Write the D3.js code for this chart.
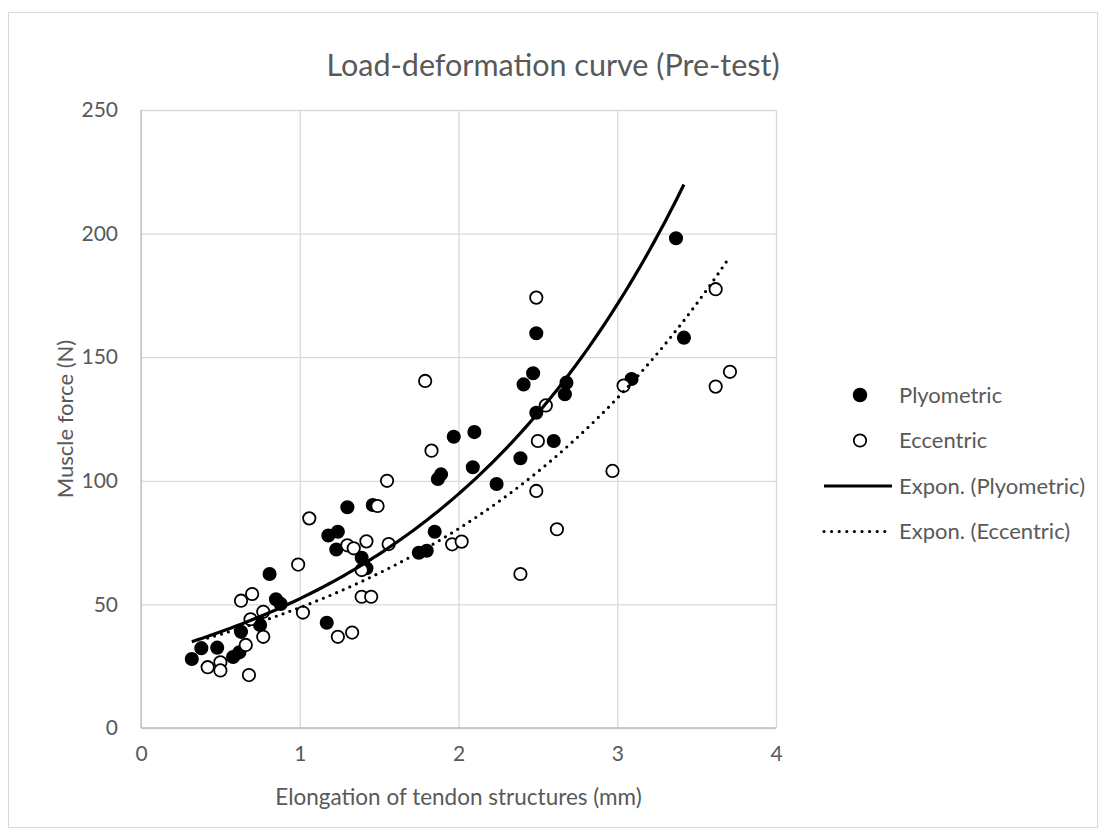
<!DOCTYPE html>
<html>
<head>
<meta charset="utf-8">
<script src="https://cdn.jsdelivr.net/npm/d3@7"></script>
<style>
body { margin: 0; background: #fff; }
svg text { font-family: Lato, "Open Sans", sans-serif; fill: #595959; }
</style>
</head>
<body>
<svg id="chart" width="1106" height="837"></svg>
<script>
// Plyometric group (filled markers)
var plyoX = [0.32, 0.38, 0.48, 0.58, 0.62, 0.63, 0.75, 0.81, 0.85, 0.88, 1.17, 1.18, 1.23, 1.24, 1.30,
    1.39, 1.42, 1.46, 1.75, 1.80, 1.85, 1.87, 1.89, 1.97, 2.09, 2.10, 2.24, 2.39, 2.41, 2.47, 2.49,
    2.49, 2.60, 2.67, 2.68, 3.09, 3.37, 3.42];
var plyoY = [27.9, 32.3, 32.5, 28.7, 30.6, 38.9, 41.7, 62.3, 52.1, 50.2, 42.6, 77.9, 72.2, 79.4, 89.3,
    68.9, 64.6, 90.2, 70.9, 71.7, 79.4, 100.7, 102.6, 117.8, 105.5, 119.7, 98.7, 109.1, 139.0, 143.5, 159.7,
    127.5, 116.1, 135.0, 139.7, 141.2, 198.1, 157.9];

// Eccentric group (open markers)
var eccX = [0.42, 0.50, 0.50, 0.68, 0.66, 0.77, 0.69, 0.77, 0.63, 0.70, 0.99, 1.02, 1.06, 1.24, 1.33,
    1.30, 1.34, 1.42, 1.39, 1.39, 1.45, 1.49, 1.55, 1.56, 1.83, 1.79, 1.96, 2.02, 2.39, 2.49, 2.50,
    2.55, 2.49, 2.62, 2.97, 3.04, 3.62, 3.71, 3.62];
var eccY = [24.6, 26.6, 23.3, 21.4, 33.6, 36.9, 44.0, 47.0, 51.5, 54.2, 66.1, 46.7, 84.8, 36.9, 38.6,
    73.9, 72.7, 75.5, 63.9, 53.1, 53.1, 89.8, 100.0, 74.4, 112.2, 140.4, 74.3, 75.4, 62.3, 95.9, 116.1,
    130.5, 174.1, 80.4, 104.0, 138.5, 177.5, 144.1, 138.1];

var xTicks = [0, 1, 2, 3, 4];
var yTicks = [0, 50, 100, 150, 200, 250];
var legendLabels = ['Plyometric', 'Eccentric', 'Expon. (Plyometric)', 'Expon. (Eccentric)'];

var svg = d3.select('#chart');
var plot = {l: 141, r: 776, t: 110, b: 728};

var xScale = d3.scaleLinear().domain([0, 4]).range([plot.l, plot.r]);
var yScale = d3.scaleLinear().domain([0, 250]).range([plot.b, plot.t]);

// chart frame
svg.append('rect')
    .attr('x', 8.5).attr('y', 12.5)
    .attr('width', 1089).attr('height', 815)
    .attr('fill', '#fff').attr('stroke', '#d9d9d9');

// gridlines + tick labels through the axis generators
var xAxisG = svg.append('g')
    .attr('transform', 'translate(0,' + plot.b + ')')
    .call(d3.axisBottom(xScale).tickValues(xTicks).tickFormat(d3.format('d'))
        .tickSize(-(plot.b - plot.t)).tickPadding(18));
var yAxisG = svg.append('g')
    .attr('transform', 'translate(' + plot.l + ',0)')
    .call(d3.axisLeft(yScale).tickValues(yTicks).tickFormat(d3.format('d'))
        .tickSize(-(plot.r - plot.l)).tickPadding(23));

[xAxisG, yAxisG].forEach(function(g) {
    g.select('.domain').remove();
    g.selectAll('.tick line').attr('stroke', '#d9d9d9').attr('stroke-width', 1.3);
    g.selectAll('.tick text').style('font-size', '21px').style('fill', '#595959');
});

// axis lines
svg.append('line')
    .attr('x1', plot.l).attr('x2', plot.l).attr('y1', plot.t).attr('y2', plot.b)
    .attr('stroke', '#bfbfbf').attr('stroke-width', 1.3);
svg.append('line')
    .attr('x1', plot.l).attr('x2', plot.r).attr('y1', plot.b).attr('y2', plot.b)
    .attr('stroke', '#bfbfbf').attr('stroke-width', 1.3);

// titles
svg.append('text')
    .attr('x', 553).attr('y', 76)
    .attr('text-anchor', 'middle')
    .style('font-size', '30.5px')
    .text('Load-deformation curve (Pre-test)');

svg.append('text')
    .attr('x', (plot.l + plot.r) / 2).attr('y', 805)
    .attr('text-anchor', 'middle')
    .style('font-size', '22.5px')
    .text('Elongation of tendon structures (mm)');

svg.append('text')
    .attr('transform', 'translate(' + [73, (plot.t + plot.b) / 2] + ')rotate(-90)')
    .attr('text-anchor', 'middle')
    .style('font-size', '22px')
    .text('Muscle force (N)');

// exponential trendline like Excel: least squares on ln(y)
function expFit(xs, ys) {
    var n = xs.length;
    var lny = ys.map(function(v) { return Math.log(v); });
    var mx = d3.mean(xs), my = d3.mean(lny);
    var sxy = 0, sxx = 0;
    for (var i = 0; i < n; i++) {
        sxy += (xs[i] - mx) * (lny[i] - my);
        sxx += (xs[i] - mx) * (xs[i] - mx);
    }
    var b = sxy / sxx;
    var a = Math.exp(my - b * mx);
    return function(x) { return a * Math.exp(b * x); };
}

function trendPoints(xs, ys) {
    var f = expFit(xs, ys);
    var lo = d3.min(xs), hi = d3.max(xs);
    return d3.range(0, 101).map(function(i) {
        var x = lo + (hi - lo) * i / 100;
        return [x, f(x)];
    });
}

var line = d3.line()
    .x(function(d) { return xScale(d[0]); })
    .y(function(d) { return yScale(d[1]); });

var plyoData = plyoX.map(function(x, i) { return {x: x, y: plyoY[i]}; });
var eccData = eccX.map(function(x, i) { return {x: x, y: eccY[i]}; });

svg.append('g').selectAll('circle')
    .data(plyoData).enter()
    .append('circle')
    .attr('cx', function(d) { return xScale(d.x); })
    .attr('cy', function(d) { return yScale(d.y); })
    .attr('r', 6.3)
    .attr('fill', '#000').attr('stroke', '#000').attr('stroke-width', 1.5);

svg.append('g').selectAll('circle')
    .data(eccData).enter()
    .append('circle')
    .attr('cx', function(d) { return xScale(d.x); })
    .attr('cy', function(d) { return yScale(d.y); })
    .attr('r', 6.2)
    .attr('fill', '#fff').attr('stroke', '#000').attr('stroke-width', 1.8);

svg.append('path')
    .attr('d', line(trendPoints(plyoX, plyoY)))
    .attr('fill', 'none').attr('stroke', '#000').attr('stroke-width', 3.2);

svg.append('path')
    .attr('d', line(trendPoints(eccX, eccY)))
    .attr('fill', 'none').attr('stroke', '#000').attr('stroke-width', 3.2)
    .attr('stroke-linecap', 'round').attr('stroke-dasharray', '0 7.2');

// legend
var legend = svg.append('g').attr('transform', 'translate(0,395)');
var rowGap = 45.5;

legendLabels.forEach(function(label, i) {
    var row = legend.append('g').attr('transform', 'translate(0,' + (i * rowGap) + ')');
    if (i === 0) {
        row.append('circle').attr('cx', 860).attr('cy', 0).attr('r', 6.5)
            .attr('fill', '#000').attr('stroke', '#000').attr('stroke-width', 1.5);
    } else if (i === 1) {
        row.append('circle').attr('cx', 860).attr('cy', 0).attr('r', 6.2)
            .attr('fill', '#fff').attr('stroke', '#000').attr('stroke-width', 1.8);
    } else {
        var ln = row.append('line')
            .attr('x1', 824).attr('x2', 892).attr('y1', 0).attr('y2', 0)
            .attr('stroke', '#000').attr('stroke-width', 3.2);
        if (i === 3) ln.attr('stroke-linecap', 'round').attr('stroke-dasharray', '0 7.6');
    }
    row.append('text')
        .attr('x', 899).attr('y', 0).attr('dy', '0.35em')
        .style('font-size', '22px')
        .text(label);
});
</script>
</body>
</html>
